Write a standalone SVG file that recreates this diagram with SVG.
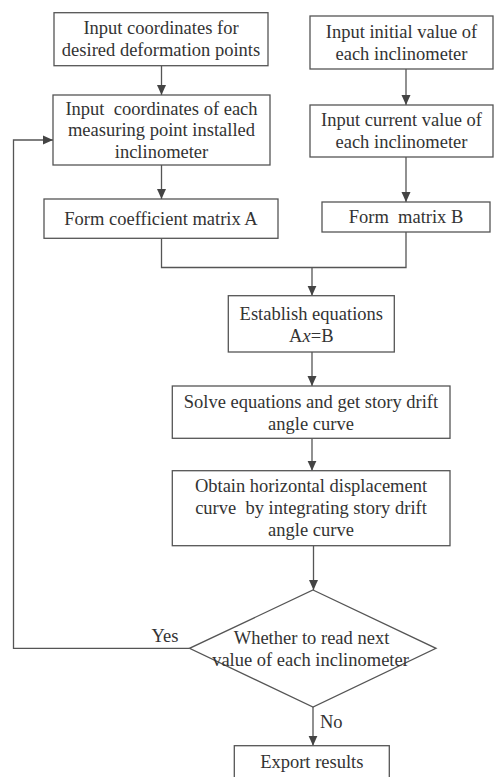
<svg xmlns="http://www.w3.org/2000/svg" width="494" height="777" viewBox="0 0 494 777">
<style>
.box{fill:#fff;stroke:#555;stroke-width:1.3}
.ln{fill:none;stroke:#555;stroke-width:1.3}
text{font-family:"Liberation Serif","Times New Roman",serif;font-size:18.5px;fill:#333;text-anchor:middle}
</style>
<defs>
<marker id="ah" markerUnits="userSpaceOnUse" markerWidth="10" markerHeight="10" viewBox="0 0 10 10" refX="10" refY="5" orient="auto">
<path d="M0,0.5 L10,5 L0,9.5 Z" fill="#444"/>
</marker>
</defs>
<rect width="494" height="777" fill="#fff"/>
<g id="connectors">
<line class="ln" x1="161.5" y1="65.7" x2="161.5" y2="95" marker-end="url(#ah)"/>
<line class="ln" x1="161.5" y1="165" x2="161.5" y2="199" marker-end="url(#ah)"/>
<line class="ln" x1="406" y1="69" x2="406" y2="105" marker-end="url(#ah)"/>
<line class="ln" x1="406" y1="157" x2="406" y2="202" marker-end="url(#ah)"/>
<polyline class="ln" points="161.5,238.3 161.5,267.5 406,267.5 406,232"/>
<line class="ln" x1="312" y1="267.5" x2="312" y2="295.7" marker-end="url(#ah)"/>
<line class="ln" x1="312" y1="352" x2="312" y2="386" marker-end="url(#ah)"/>
<line class="ln" x1="312" y1="438.3" x2="312" y2="470.7" marker-end="url(#ah)"/>
<line class="ln" x1="313.5" y1="545.7" x2="313.5" y2="590" marker-end="url(#ah)"/>
<line class="ln" x1="313" y1="707" x2="313" y2="745.7" marker-end="url(#ah)"/>
<polyline class="ln" points="189.5,648.3 13.5,648.3 13.5,140 53,140" marker-end="url(#ah)"/>
<text x="165" y="641.5">Yes</text>
<text x="320" y="728" style="text-anchor:start">No</text>
</g>
<g id="n1">
<rect class="box" x="54" y="12.7" width="214" height="53"/>
<text x="161" y="33.5">Input coordinates for</text>
<text x="161" y="55.5">desired deformation points</text>
</g>
<g id="n2">
<rect class="box" x="53" y="95" width="217" height="70"/>
<text x="161.5" y="114.5" xml:space="preserve">Input  coordinates of each</text>
<text x="161.5" y="136">measuring point installed</text>
<text x="161.5" y="157.5">inclinometer</text>
</g>
<g id="n3">
<rect class="box" x="44" y="199" width="234" height="39.3"/>
<text x="161" y="224.5">Form coefficient matrix A</text>
</g>
<g id="n4">
<rect class="box" x="310" y="16" width="183" height="53"/>
<text x="401.5" y="37.5">Input initial value of</text>
<text x="401.5" y="59.5">each inclinometer</text>
</g>
<g id="n5">
<rect class="box" x="310" y="105" width="183" height="52"/>
<text x="401.5" y="126">Input current value of</text>
<text x="401.5" y="148">each inclinometer</text>
</g>
<g id="n6">
<rect class="box" x="322" y="202" width="168" height="30"/>
<text x="406" y="222.5" xml:space="preserve">Form  matrix B</text>
</g>
<g id="n7">
<rect class="box" x="228.3" y="295.7" width="166" height="56.3"/>
<text x="311.3" y="319.5">Establish equations</text>
<text x="311.3" y="341.5">A<tspan font-style="italic">x</tspan>=B</text>
</g>
<g id="n8">
<rect class="box" x="172.3" y="386" width="277.7" height="52.3"/>
<text x="311" y="407.5">Solve equations and get story drift</text>
<text x="311" y="429.5">angle curve</text>
</g>
<g id="n9">
<rect class="box" x="172.3" y="470.7" width="277.7" height="75"/>
<text x="311" y="492">Obtain horizontal displacement</text>
<text x="311" y="513.5" xml:space="preserve">curve  by integrating story drift</text>
<text x="311" y="535.5">angle curve</text>
</g>
<g id="n10">
<polygon class="box" points="313,590 436,648.3 313,707 189.5,648.3"/>
<text x="311.5" y="644">Whether to read next</text>
<text x="310.5" y="666">value of each inclinometer</text>
</g>
<g id="n11">
<rect class="box" x="234.3" y="745.7" width="155" height="45"/>
<text x="311.8" y="768">Export results</text>
</g>
</svg>
